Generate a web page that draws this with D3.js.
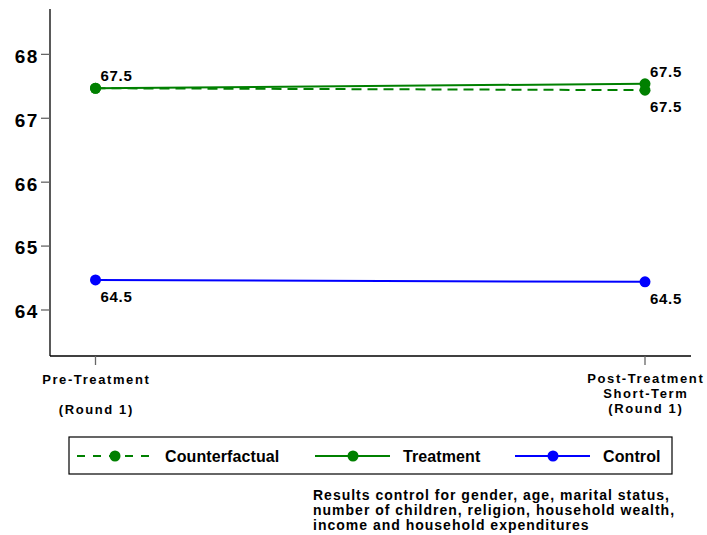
<!DOCTYPE html>
<html><head><meta charset="utf-8">
<script src="https://cdn.jsdelivr.net/npm/d3@7"></script>
<style>body{margin:0;background:#fff}svg{display:block;font-family:"Liberation Sans",Arial,sans-serif;font-weight:bold}</style>
</head><body><svg id="c" width="707" height="535"></svg>
<script>
const periods = ["Pre", "Post"];
const periodLabels = [["Pre-Treatment", "", "(Round 1)"], ["Post-Treatment", "Short-Term", "(Round 1)"]];
const counterfactual = [67.47, 67.44];
const treatment = [67.47, 67.54];
const control = [64.47, 64.44];
const yTicks = [64, 65, 66, 67, 68];
const valueLabels = ["67.5", "67.5", "64.5"];
const note = ["Results control for gender, age, marital status,", "number of children, religion, household wealth,", "income and household expenditures"];

const svg = d3.select("#c");
const y = d3.scaleLinear().domain([63.28, 68.71]).range([356, 9]);
const x = d3.scalePoint().domain(periods).range([95.5, 645]);

svg.append("line").attr("x1", 50).attr("x2", 50).attr("y1", 9).attr("y2", 356).attr("stroke", "#000").attr("stroke-width", 1.3);
svg.append("line").attr("x1", 50).attr("x2", 691).attr("y1", 356).attr("y2", 356).attr("stroke", "#000").attr("stroke-width", 1.3);
yTicks.forEach(t => {
  svg.append("line").attr("x1", 41).attr("x2", 50).attr("y1", y(t)).attr("y2", y(t)).attr("stroke", "#666").attr("stroke-width", 1.3);
  svg.append("text").attr("x", 38.5).attr("y", y(t) + 1.5).attr("dy", "0.36em").attr("text-anchor", "end")
    .attr("font-size", 19).attr("letter-spacing", 1.3).text(t);
});
periods.forEach((p, i) => {
  svg.append("line").attr("x1", x(p)).attr("x2", x(p)).attr("y1", 356).attr("y2", 365).attr("stroke", "#666").attr("stroke-width", 1.3);
  const lines = periodLabels[i];
  const ys = i === 0 ? [384, null, 414] : [383, 398, 413];
  lines.forEach((l, j) => {
    if (!l) return;
    svg.append("text").attr("x", x(p) + 0.8).attr("y", ys[j]).attr("text-anchor", "middle")
      .attr("font-size", 13).attr("letter-spacing", 1.6).text(l);
  });
});

const green = "#008000", blue = "#0000ff";
const line = d3.line().x((d, i) => x(periods[i])).y(d => y(d));
function series(vals, color, dash) {
  svg.append("path").attr("d", line(vals)).attr("fill", "none").attr("stroke", color).attr("stroke-width", 2).attr("stroke-dasharray", dash || null);
  vals.forEach((v, i) => svg.append("circle").attr("cx", x(periods[i])).attr("cy", y(v)).attr("r", 5.5).attr("fill", color));
}
series(counterfactual, green, "10,6");
series(treatment, green);
series(control, blue);

function lab(px, v, dy, t) {
  svg.append("text").attr("x", px + 5).attr("y", y(v) + dy).attr("font-size", 15).attr("letter-spacing", 0.7).text(t);
}
lab(x("Pre"), treatment[0], -7.5, valueLabels[0]);
lab(x("Post"), treatment[1], -6.5, valueLabels[1]);
lab(x("Post"), counterfactual[1], 22, valueLabels[1]);
lab(x("Pre"), control[0], 22.5, valueLabels[2]);
lab(x("Post"), control[1], 22, valueLabels[2]);

svg.append("rect").attr("x", 69).attr("y", 437).attr("width", 603).attr("height", 37).attr("fill", "#fff").attr("stroke", "#000").attr("stroke-width", 1.2);
const legend = [
  {name: "Counterfactual", color: green, dash: "8,8", x0: 77},
  {name: "Treatment", color: green, dash: null, x0: 315},
  {name: "Control", color: blue, dash: null, x0: 515}
];
legend.forEach(l => {
  svg.append("line").attr("x1", l.x0).attr("x2", l.x0 + 75).attr("y1", 456).attr("y2", 456).attr("stroke", l.color).attr("stroke-width", 2).attr("stroke-dasharray", l.dash);
  svg.append("circle").attr("cx", l.x0 + 38).attr("cy", 456).attr("r", 5.5).attr("fill", l.color);
  svg.append("text").attr("x", l.x0 + 88).attr("y", 456.5).attr("dy", "0.36em").attr("font-size", 16).attr("letter-spacing", 0.1).text(l.name);
});
note.forEach((t, i) => svg.append("text").attr("x", 313).attr("y", 500 + i * 15).attr("font-size", 14).attr("letter-spacing", 1).text(t));
</script></body></html>
